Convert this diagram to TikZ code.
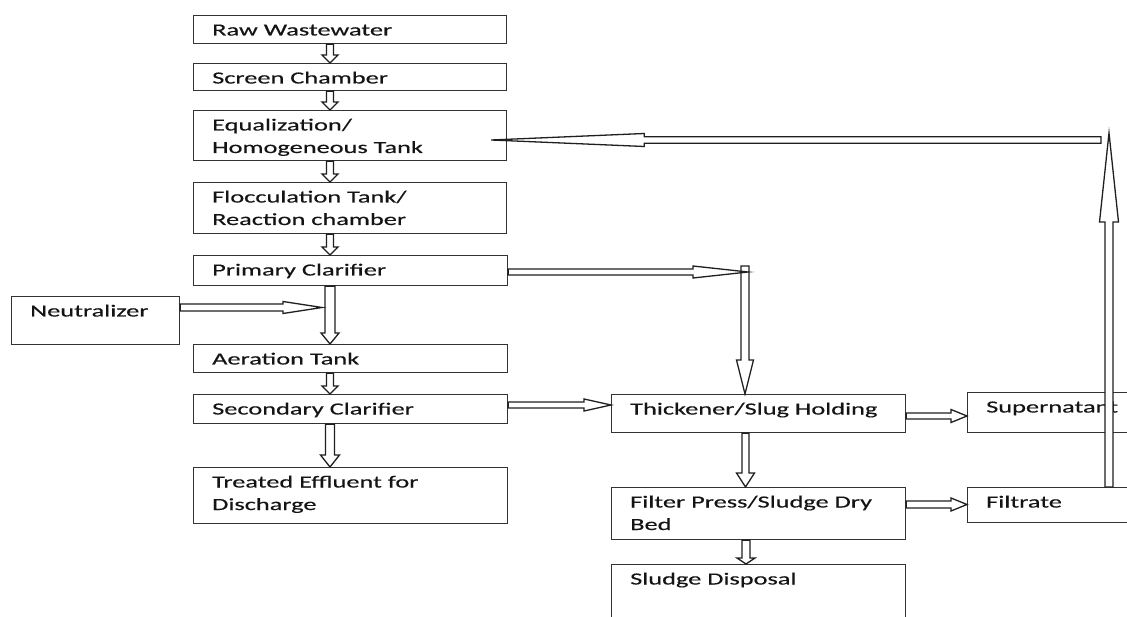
\documentclass[tikz,border=0pt]{standalone}
\usepackage{fontspec}
\setmainfont{Carlito}[FakeStretch=1.55,FakeBold=0.35]
\usetikzlibrary{calc}
\tikzset{
  box/.style={draw=black!80, line width=1.2pt, rectangle, inner sep=0pt, anchor=north west},
  txt/.style={anchor=base west, inner sep=0pt, align=left, text=black!92, font=\fontsize{17}{22.5}\selectfont},
  blk/.style={draw=black!88, line width=1.3pt, fill=white, line join=miter},
}
% #7: depth of the last baseline below the first one (0 or 22.5)
\newcommand\bx[7]{%
  \node[box, minimum width={#4pt-#2pt}, minimum height={#5pt-#3pt}] (#1) at (#2,#3) {};
  \node[txt] (#1-t) at ([shift={(19,20.5+#7)}]#1.north west) {#6};}
% block arrow: #1 tail, #2 tip, #3 shaft half width, #4 head half width, #5 head length
\newcommand\barrow[5]{%
  \draw[blk] let \p1=(#1), \p2=(#2), \p3=($(\p2)!#5pt!(\p1)$) in
    ($(\p1)!#3pt!90:(\p2)$) -- ($(\p3)!#3pt!90:(\p2)$) -- ($(\p3)!#4pt!90:(\p2)$) -- (\p2)
    -- ($(\p3)!#4pt!-90:(\p2)$) -- ($(\p3)!#3pt!-90:(\p2)$) -- ($(\p1)!#3pt!-90:(\p2)$) -- cycle;}
\begin{document}
\begin{tikzpicture}[x=1pt,y=-1pt]
\fill[white] (0,0) rectangle (1127,617);
\clip (0,0) rectangle (1127,617);
\bx{raw}{193}{15}{506}{43}{Raw Wastewater}{0}
\bx{screen}{193}{63}{506}{90}{Screen Chamber}{0}
\bx{equal}{193}{110}{506}{160}{Equalization/\\Homogeneous Tank}{22.5}
\bx{flocc}{193}{182}{506}{233}{Flocculation Tank/\\Reaction chamber}{22.5}
\bx{prim}{193}{255}{507}{285}{Primary Clarifier}{0}
\bx{neut}{11}{296}{179}{344}{Neutralizer}{0}
\bx{aer}{193}{344}{507}{372}{Aeration Tank}{0}
\bx{sec}{193}{394}{507}{423}{Secondary Clarifier}{0}
\bx{treat}{193}{467}{507}{523}{Treated Effluent for\\Discharge}{22.5}
\bx{thick}{611}{394}{905}{432}{Thickener/Slug Holding}{0}
\bx{filt}{611}{487}{905}{539}{Filter Press/Sludge Dry\\Bed}{22.5}
\bx{sludge}{611}{564}{905}{640}{Sludge Disposal}{0}
\bx{super}{967}{392}{1140}{432}{Supernatant}{0}
\bx{filtrate}{967}{487}{1140}{522}{Filtrate}{0}
% left column
\barrow{raw.south -| 330,0}{screen.north -| 330,0}{3.5}{8}{8}
\barrow{screen.south -| 330,0}{equal.north -| 330,0}{3.5}{8}{8}
\barrow{equal.south -| 330,0}{flocc.north -| 330,0}{3.5}{8}{8}
\barrow{flocc.south -| 330,0}{prim.north -| 330,0}{3.5}{8}{8}
\barrow{prim.south -| 330,0}{aer.north -| 330,0}{5}{9}{11}
\coordinate (nj) at (322,307.5);
\barrow{neut.east |- 0,307.5}{nj}{3.5}{6}{39}
\barrow{aer.south -| 330,0}{sec.north -| 330,0}{3.5}{8}{8}
\barrow{sec.south -| 330,0}{treat.north -| 330,0}{4.5}{9.5}{12}
\barrow{sec.east |- 0,405}{thick.west |- 0,405}{3}{6}{27}
% primary clarifier to thickener
\coordinate (pj) at (745,266);
\coordinate (pt) at (748,272);
\barrow{pj}{thick.north -| 745,0}{4}{8.5}{34}
\barrow{prim.east |- 0,272}{pt}{3}{6}{55}
% sludge line
\barrow{thick.east |- 0,416}{super.west |- 0,416}{3}{6.5}{16}
\barrow{thick.south -| 745.5,0}{filt.north -| 745.5,0}{3.5}{9}{14}
\barrow{filt.east |- 0,504.5}{filtrate.west |- 0,504.5}{3.5}{6.5}{16}
\barrow{filt.south -| 746,0}{sludge.north -| 746,0}{4}{9}{6}
% return line
\coordinate (ut) at (1109,133);
\barrow{filtrate.north -| 1109,0}{ut}{4}{9.5}{89}
\coordinate (rs) at (1101,140);
\coordinate (et) at ($(equal.east |- 0,140)+(-16,0)$);
\barrow{rs}{et}{3.3}{6.5}{153}
\end{tikzpicture}
\end{document}
